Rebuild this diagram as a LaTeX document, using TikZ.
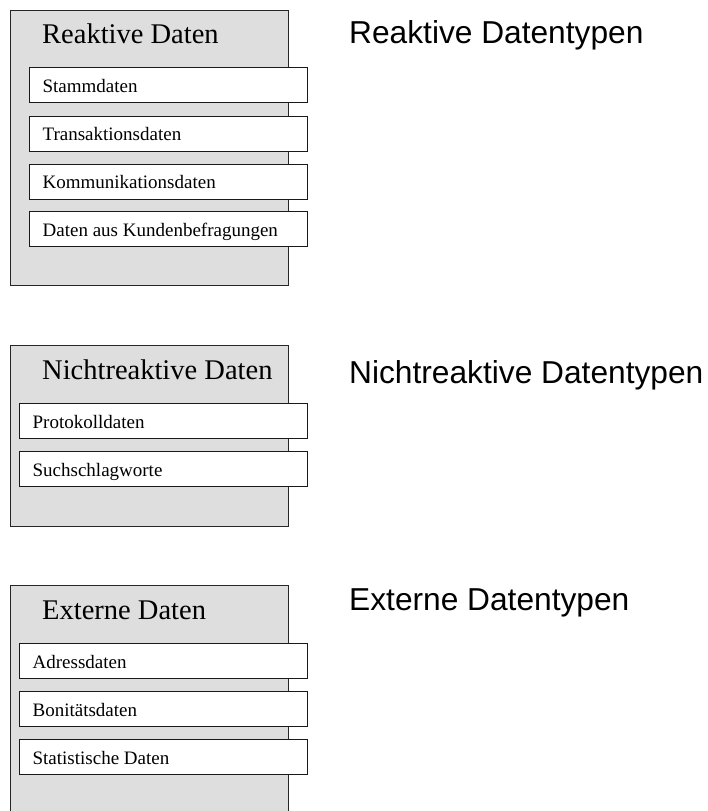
\documentclass[tikz,border=0pt]{standalone}
\usepackage{fontspec}
\setmainfont{Liberation Serif}
\newfontfamily\labelfont{Liberation Sans}
\begin{document}
\begin{tikzpicture}[x=1pt,y=-1pt,
  group/.style={draw=black!85,line width=1.3pt,fill=black!13,anchor=north west,
    minimum width=278pt,inner sep=0pt},
  item/.style={draw=black!90,line width=1.3pt,fill=white,anchor=north west,
    minimum width=278pt,minimum height=35pt,inner xsep=13pt,inner ysep=0pt,
    text height=16.5pt,text depth=2pt,text width=252pt,align=flush left,
    font=\fontsize{19pt}{22pt}\selectfont},
  wideitem/.style={item,minimum width=288pt,text width=262pt},
  title/.style={anchor=base west,inner sep=0pt,font=\fontsize{28.5pt}{32pt}\selectfont},
  kind/.style={anchor=base west,inner sep=0pt,font=\labelfont\fontsize{31.7pt}{36pt}\selectfont}]
  \useasboundingbox (0,0) rectangle (707,811);
  \begin{scope}
  \clip (0,0) rectangle (707,811);

  % Reaktive Daten
  \node[group,minimum height=275pt] (g1) at (10,10) {};
  \node[title] (t1) at (42,43.5) {Reaktive Daten};
  \node[item] (r1) at (29,67) {Stammdaten};
  \node[item] (r2) at (29,115.5) {Transaktionsdaten};
  \node[item] (r3) at (29,163.5) {Kommunikationsdaten};
  \node[item] (r4) at (29,211) {Daten aus Kundenbefragungen};
  \node[kind] (k1) at (349,43) {Reaktive Datentypen};

  % Nichtreaktive Daten
  \node[group,minimum height=181pt] (g2) at (10,345) {};
  \node[title] (t2) at (42,379) {Nichtreaktive Daten};
  \node[wideitem] (n1) at (19,403) {Protokolldaten};
  \node[wideitem] (n2) at (19,451) {Suchschlagworte};
  \node[kind] (k2) at (349,383.5) {Nichtreaktive Datentypen};

  % Externe Daten
  \node[group,minimum height=240pt] (g3) at (10,585) {};
  \node[title] (t3) at (42,619) {Externe Daten};
  \node[wideitem] (e1) at (19,643) {Adressdaten};
  \node[wideitem] (e2) at (19,691) {Bonitätsdaten};
  \node[wideitem] (e3) at (19,739) {Statistische Daten};
  \node[kind] (k3) at (349,610) {Externe Datentypen};
  \end{scope}
\end{tikzpicture}
\end{document}
